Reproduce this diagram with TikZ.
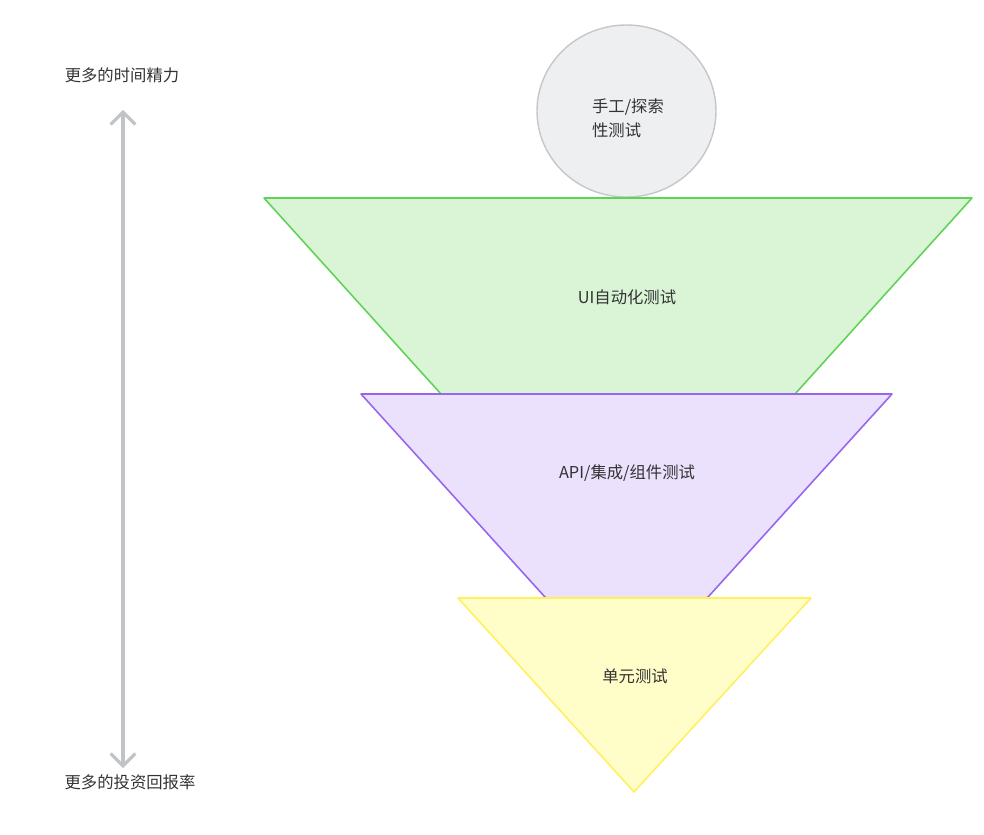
\documentclass[tikz,border=0pt]{standalone}
\usepackage{fontspec}
\setmainfont{Noto Sans CJK SC}
\usepackage{xcolor}
\usepackage{tikz}
\usetikzlibrary{arrows.meta,positioning}
\definecolor{pyr_text}{RGB}{51,51,51}
\definecolor{pyr_axis}{RGB}{192,196,201}
\definecolor{ui_fill}{RGB}{217,245,214}
\definecolor{ui_draw}{RGB}{96,210,88}
\definecolor{api_fill}{RGB}{235,225,252}
\definecolor{api_draw}{RGB}{152,100,240}
\definecolor{unit_fill}{RGB}{255,253,200}
\definecolor{unit_draw}{RGB}{255,240,96}
\definecolor{manual_fill}{RGB}{238,239,241}
\definecolor{manual_draw}{RGB}{198,198,204}

\begin{document}
\begin{tikzpicture}[x=0.02cm, y=-0.02cm,
    font=\fontsize{9.3}{13.6}\selectfont, text=pyr_text,
    layer/.style={line width=0.9pt, line join=round},
    lbl/.style={inner sep=0pt}]
        \useasboundingbox (0,0) rectangle (984,835);
        % Manual / exploratory testing
        \draw[fill=manual_fill, draw=manual_draw, line width=0.8pt]
          (626.5,111) ellipse[x radius=89.5, y radius=86];
        \node[lbl, align=left] (manual) at (628,118)
          {手工/探索\\性测试};
        % UI layer
        \draw[layer, fill=ui_fill, draw=ui_draw]
          (264,198) -- (972,198) -- (618,590) -- cycle;
        \node[lbl] (ui) at (627,297) {UI自动化测试};
        % API layer
        \draw[layer, fill=api_fill, draw=api_draw]
          (361,394) -- (892,394) -- (626.5,687) -- cycle;
        \node[lbl] (api) at (627,473) {API/集成/组件测试};
        % Unit layer
        \draw[layer, fill=unit_fill, draw=unit_draw]
          (458,598) -- (811,598) -- (634,792) -- cycle;
        \node[lbl] (unit) at (635,676) {单元测试};
        % Axis
        \node[lbl] (effort) at (122,75) {更多的时间精力};
        \node[lbl] (roi) at (130,782) {更多的投资回报率};
        \draw[{Straight Barb[length=7pt, width=14pt]}-{Straight Barb[length=7pt, width=14pt]},
          draw=pyr_axis, line width=1.8pt]
          (effort.south -| 123,0) ++(0,27) coordinate (top)
          (top) -- (123,768) coordinate (bottom);
      \end{tikzpicture}
\end{document}
